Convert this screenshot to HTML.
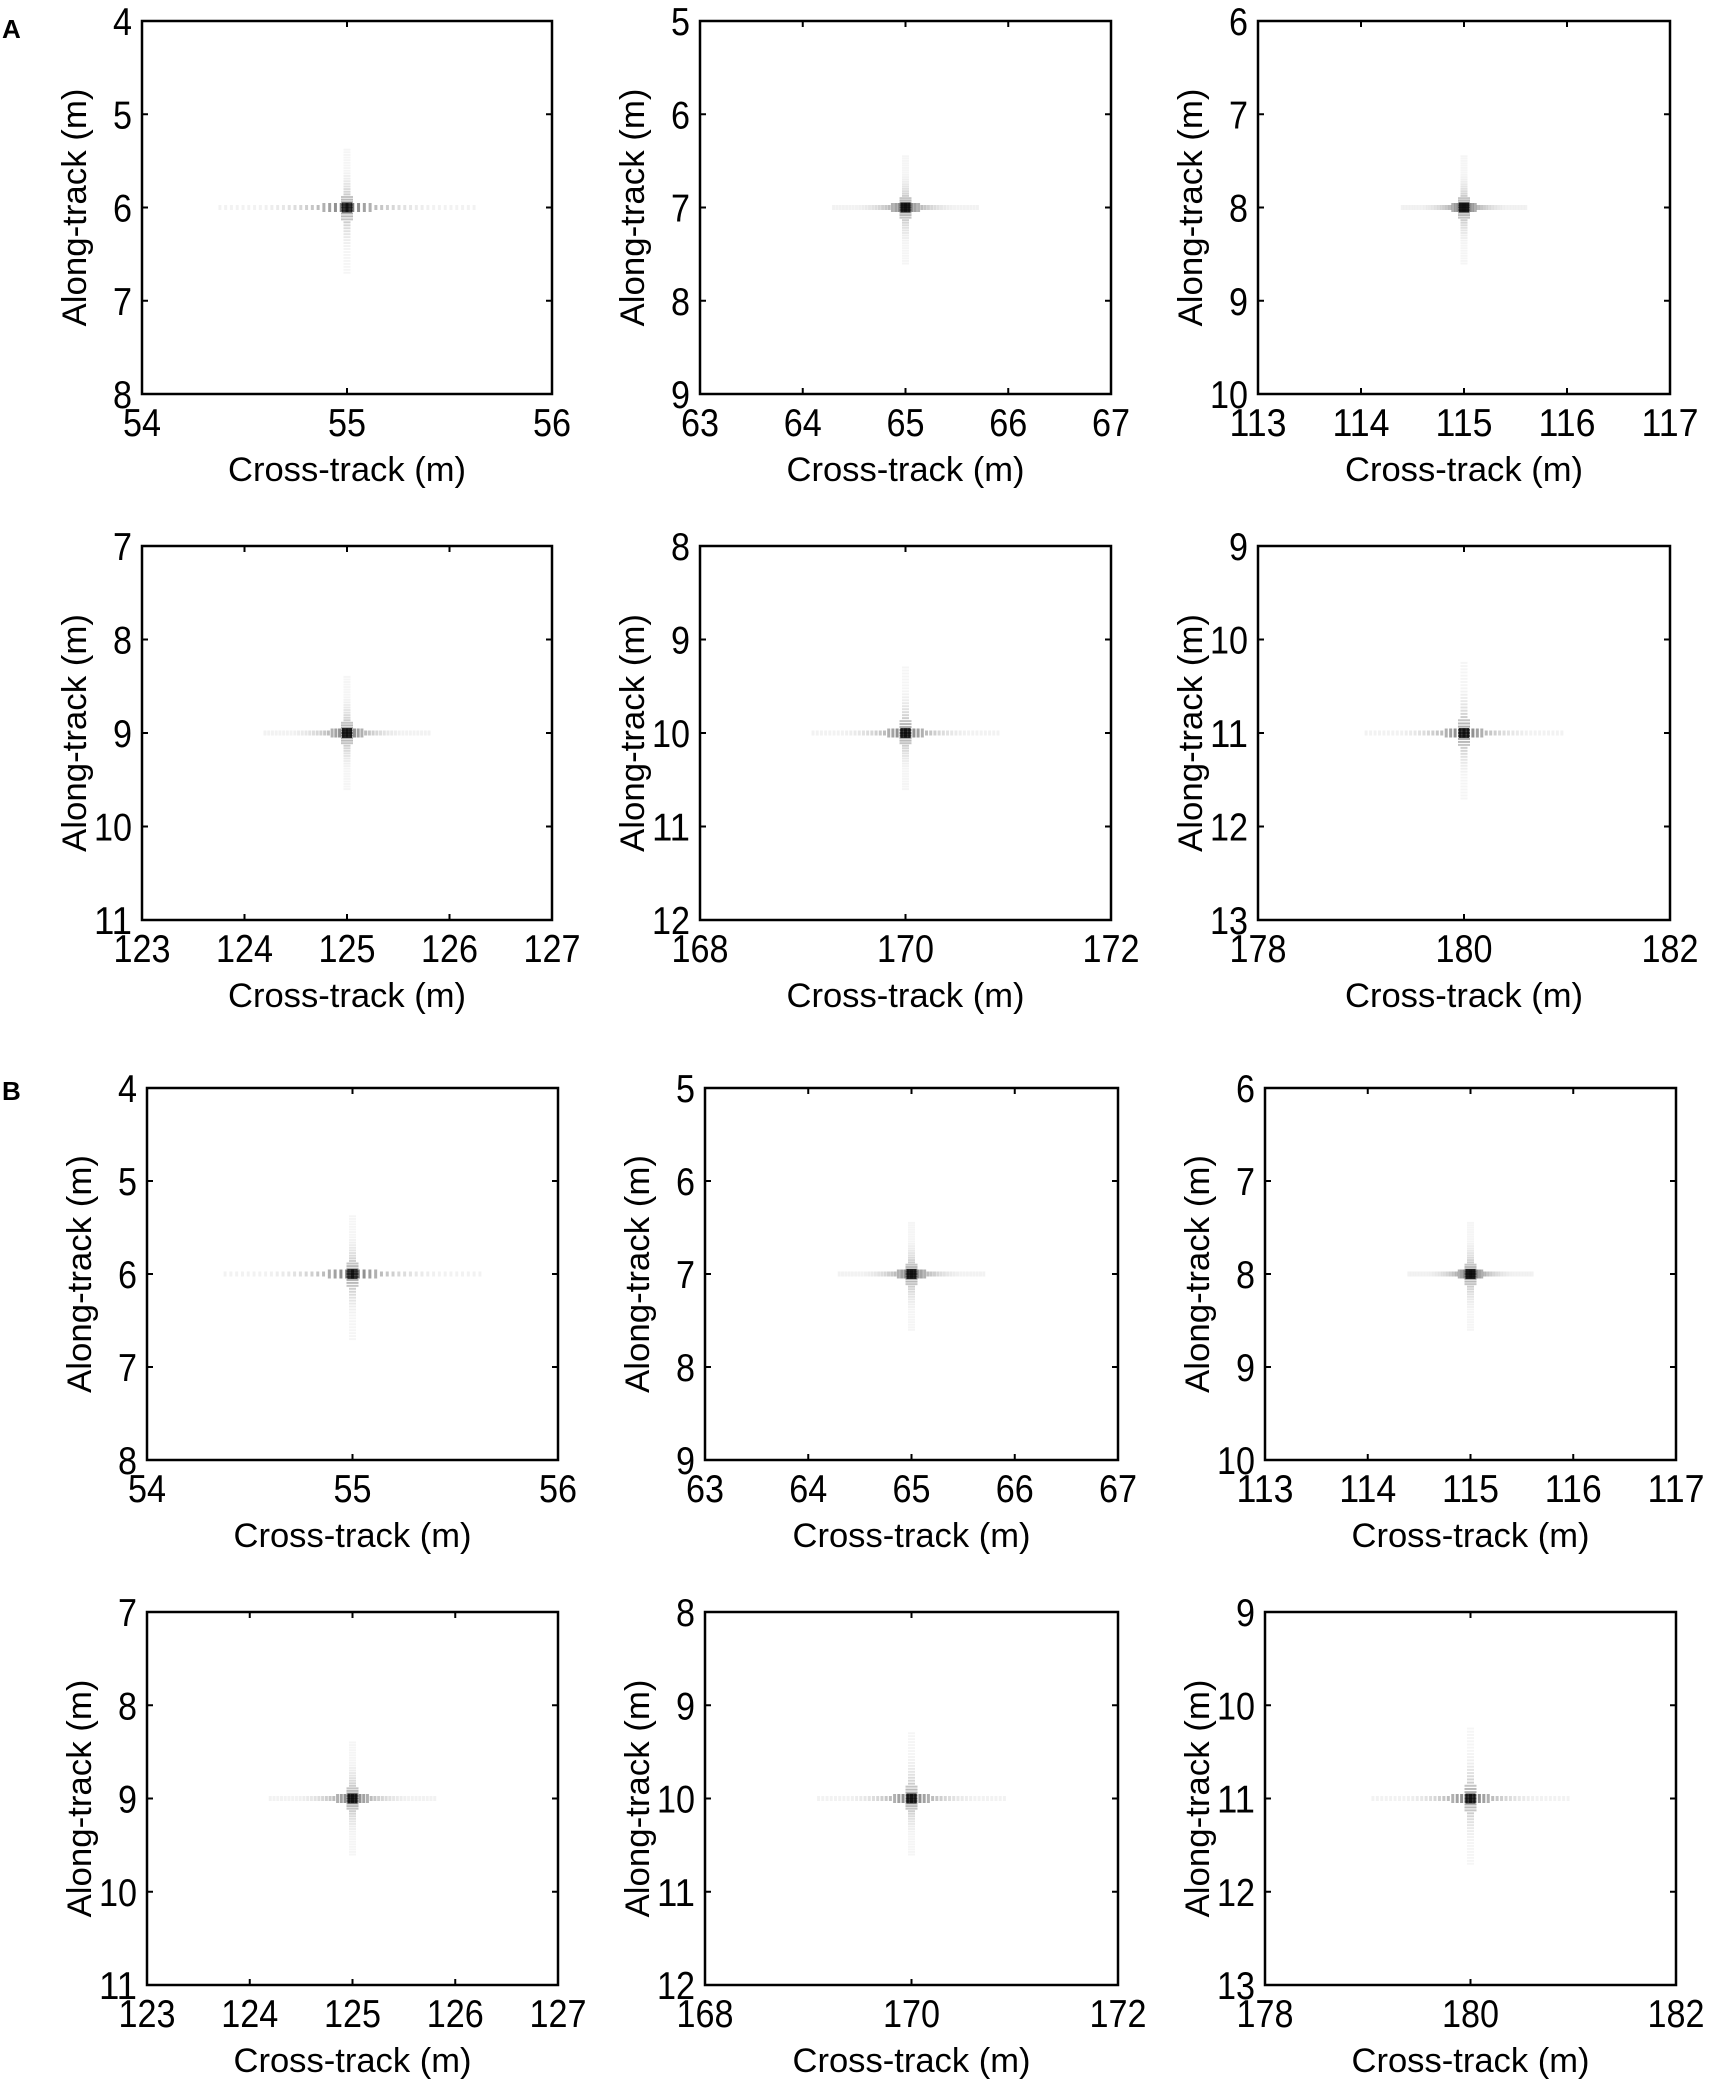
<!DOCTYPE html>
<html><head><meta charset="utf-8"><style>
html,body{margin:0;padding:0;background:#fff;}
svg{display:block;}
text{font-family:"Liberation Sans",sans-serif;fill:#000;}
</style></head><body>
<svg id="fig" width="1720" height="2085" viewBox="0 0 1720 2085" xmlns="http://www.w3.org/2000/svg">
<text x="2" y="38" font-size="26" font-weight="bold">A</text>
<text x="2" y="1100" font-size="26" font-weight="bold">B</text>
</svg>
<script>
// chart data
const xTickSets = [[54,55,56],[63,64,65,66,67],[113,114,115,116,117],[123,124,125,126,127],[168,170,172],[178,180,182]];
const yStarts = [4,5,6,7,8,9];
const centersX = [55,65,115,125,170,180];
const centersY = [6,7,8,9,10,11];
const spreadX = [0.62,0.7,0.6,0.8,0.9,0.95];
const spreadUp = [0.62,0.55,0.55,0.6,0.7,0.75];
const spreadDown = [0.7,0.6,0.6,0.6,0.6,0.7];

const svg = document.getElementById('fig');
const NS = 'http://www.w3.org/2000/svg';
const colsA = [[142,552],[700,1111],[1258,1670]];
const colsB = [[147,558],[705,1118],[1265,1676]];
const rowsY = [[21,394],[546,920],[1088,1460],[1612,1985]];

function mk(tag, attrs, parent){
  const e = document.createElementNS(NS, tag);
  for (const k in attrs) e.setAttribute(k, attrs[k]);
  (parent||svg).appendChild(e);
  return e;
}

for (let r = 0; r < 4; r++) {
  for (let c = 0; c < 3; c++) {
    const i = (r % 2) * 3 + c;
    const cols = r < 2 ? colsA : colsB;
    const [x0, x1] = cols[c];
    const [y0, y1] = rowsY[r];
    const xt = xTickSets[i];
    const xmin = xt[0], xmax = xt[xt.length-1];
    const ymin = yStarts[i], ymax = yStarts[i] + 4;
    const sx = v => x0 + (v - xmin) / (xmax - xmin) * (x1 - x0);
    const sy = v => y0 + (v - ymin) / (ymax - ymin) * (y1 - y0);
    const g = mk('g', {});
    
    

    const cx = sx(centersX[i]), cy = sy(centersY[i]);
    const n = 22;
    for (let k = -n; k <= n; k++) {
      const dv = k / n * spreadX[i];
      const op = Math.max(0.05, 0.6 * Math.exp(-Math.abs(k) / 6));
      const h = Math.abs(k) < 5 ? 9 : 5;
      const dot = mk('rect', {x: sx(centersX[i] + dv) - 1.5, y: cy - h/2, width: 3, height: h, fill: '#000', opacity: op}, g);
      
      
    }
    for (let k = -n; k <= n; k++) {
      const sp = k < 0 ? spreadUp[i] : spreadDown[i];
      const dv = k / n * sp;
      const op = Math.max(0.04, 0.45 * Math.exp(-Math.abs(k) / 6));
      const w = Math.abs(k) < 5 ? 12 : 7;
      const dot = mk('rect', {x: cx - w/2, y: sy(centersY[i] + dv) - 1, width: w, height: 2, fill: '#000', opacity: op}, g);
      
      
    }
    const core = mk('rect', {x: cx - 5, y: cy - 5, width: 10, height: 10, fill: '#000', opacity: 0.75}, g);
    
    

    const box = mk('rect', {x: x0, y: y0, width: x1 - x0, height: y1 - y0, fill: 'none', stroke: '#000', 'stroke-width': 2.5}, g);
    
    

    xt.forEach(v => {
      const X = sx(v);
      mk('line', {x1: X, y1: y1, x2: X, y2: y1 - 6, stroke: '#000', 'stroke-width': 2}, g);
      mk('line', {x1: X, y1: y0, x2: X, y2: y0 + 6, stroke: '#000', 'stroke-width': 2}, g);
      const t = mk('text', {x: X, y: y1 + 42, 'font-size': 39, 'text-anchor': 'middle', textLength: String(v).length * 19, lengthAdjust: 'spacingAndGlyphs'}, g);
      t.textContent = v;
      
      
    }
    );
    for (let v = ymin; v <= ymax; v++) {
      const Y = sy(v);
      mk('line', {x1: x0, y1: Y, x2: x0 + 6, y2: Y, stroke: '#000', 'stroke-width': 2}, g);
      mk('line', {x1: x1, y1: Y, x2: x1 - 6, y2: Y, stroke: '#000', 'stroke-width': 2}, g);
      const t = mk('text', {x: x0 - 10, y: Y + 14, 'font-size': 39, 'text-anchor': 'end', textLength: String(v).length * 19, lengthAdjust: 'spacingAndGlyphs'}, g);
      t.textContent = v;
      
      
    }
    const xl = mk('text', {x: (x0 + x1) / 2, y: y1 + 87, 'font-size': 34, 'text-anchor': 'middle', textLength: 238, lengthAdjust: 'spacingAndGlyphs'}, g);
    xl.textContent = 'Cross-track (m)';
    
    
    const ylx = x0 - 67, yly = (y0 + y1) / 2;
    const yl = mk('text', {x: ylx, y: yly, 'font-size': 34, 'text-anchor': 'middle', textLength: 238, lengthAdjust: 'spacingAndGlyphs', transform: 'rotate(-90 ' + ylx + ' ' + yly + ') translate(0 11)'}, g);
    yl.textContent = 'Along-track (m)';
    
    
  }
}
</script>
</body></html>
